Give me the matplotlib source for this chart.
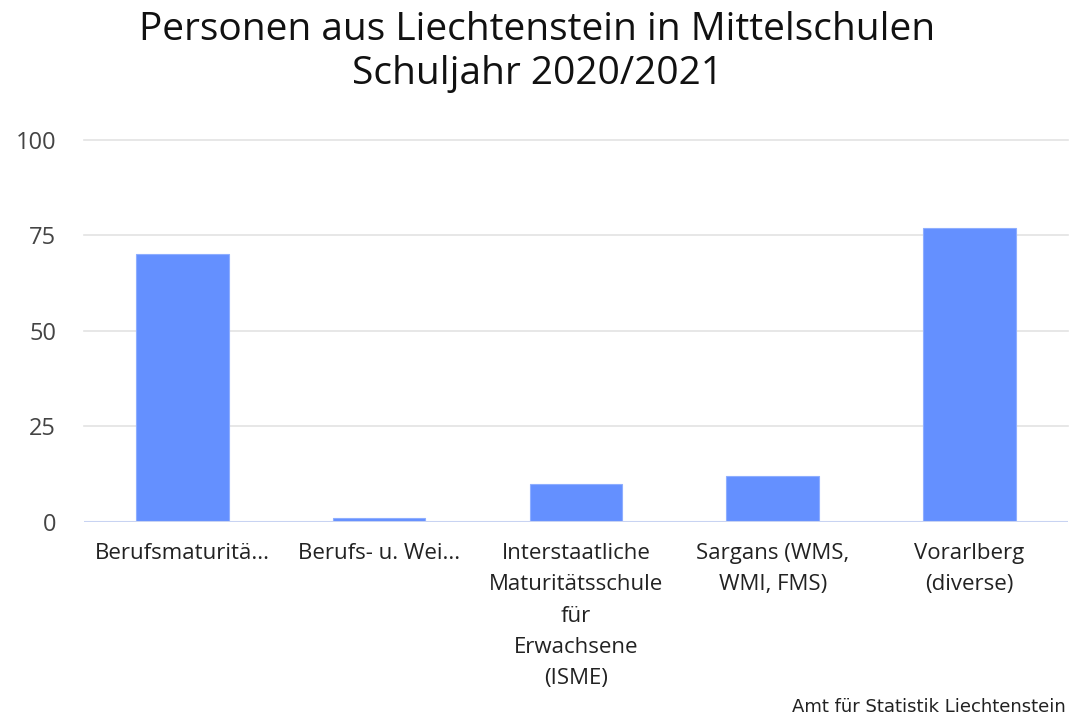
import numpy as np
import matplotlib.pyplot as plt

# data
categories = [
    "Berufsmaturitä...",
    "Berufs- u. Wei...",
    "Interstaatliche\nMaturitätsschule\nfür\nErwachsene\n(ISME)",
    "Sargans (WMS,\nWMI, FMS)",
    "Vorarlberg\n(diverse)",
]
values = [70, 1, 10, 12, 77]
yticks = [0, 25, 50, 75, 100]

fig = plt.figure(figsize=(10.7, 7.2), dpi=100)
ax = fig.add_axes([0.0785, 0.275, 0.9195, 0.531])

x = np.arange(len(categories))
ax.bar(x, values, width=0.47, color="#6490ff", edgecolor="#8eaeff", linewidth=0.8, zorder=3)

ax.set_xlim(-0.5, len(categories) - 0.5)
ax.set_ylim(0, 100)
ax.set_yticks(yticks)
ax.set_yticklabels([str(v) for v in yticks], fontsize=17, color="#444444", family="Open Sans")
ax.set_xticks(x)
ax.set_xticklabels(categories, fontsize=16, color="#222222", family="Open Sans", linespacing=1.65)
ax.tick_params(axis="y", length=0, pad=20)
ax.tick_params(axis="x", length=0, pad=15)

for v in yticks[1:]:
    ax.axhline(v, color="#e3e3e3", linewidth=1.2, zorder=1, clip_on=False)
ax.axhline(0, color="#c8d3f2", linewidth=1.5, zorder=4)

for s in ax.spines.values():
    s.set_visible(False)

fig.text(0.502, 0.985, "Personen aus Liechtenstein in Mittelschulen\nSchuljahr 2020/2021",
         ha="center", va="top", fontsize=28, color="#111111", family="Open Sans",
         fontweight="medium", linespacing=1.22)
fig.text(0.996, 0.005, "Amt für Statistik Liechtenstein", ha="right", va="bottom",
         fontsize=13, color="#222222", family="DejaVu Sans")

fig.savefig("out.png", dpi=100)
